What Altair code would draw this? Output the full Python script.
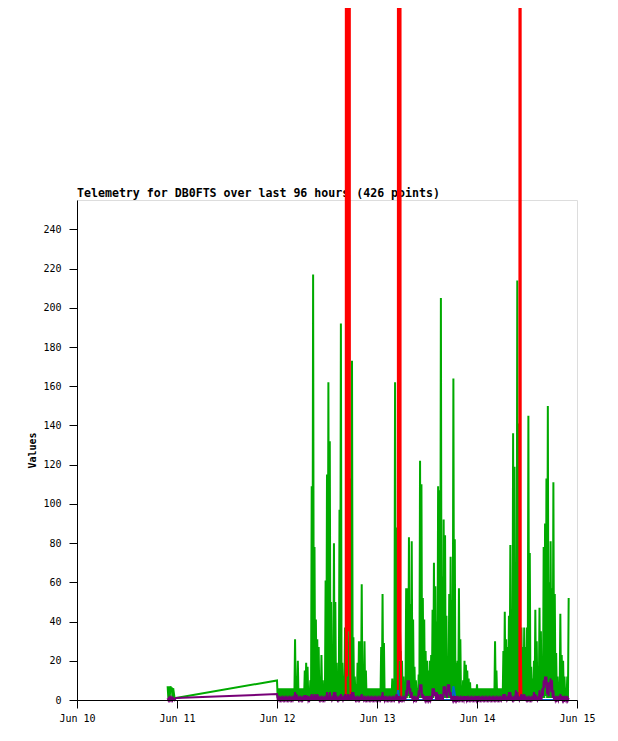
import altair as alt
import pandas as pd

TITLE = "Telemetry for DB0FTS over last 96 hours (426 points)"
MONO = "DejaVu Sans Mono"

# x is hours since Jun 10 00:00
DAY_TICKS = [0, 24, 48, 72, 96, 120]
Y_TICKS = [0, 20, 40, 60, 80, 100, 120, 140, 160, 180, 200, 220, 240]

# a few packets late on Jun 10
pre_hours = [21.75, 21.92, 22.08, 22.25, 22.42, 22.58, 22.75, 22.92, 23.08, 23.42, 23.75]
pre_green = [7, 1, 7, 1, 7, 6, 6, 1, 6, 1, 1]
pre_purple = [1, 0, 1, 0, 1, 0, 1, 0, 1, 0, 1]

# regular packets from Jun 12 00:00, every 10 minutes
GRID_START = 48.0
GRID_STEP = 1.0 / 6.0

# green: values on the :00/:20/:40 packets (peaks) and the :10/:30/:50 packets (troughs)
green_peaks = [
    10, 6, 6, 6, 6, 6, 6, 6, 6, 6,
    6, 6, 6, 31, 12, 20, 6, 6, 6, 6,
    15, 19, 17, 6, 10, 109, 217, 78, 41, 31,
    27, 6, 23, 10, 6, 61, 115, 162, 132, 50,
    17, 80, 50, 19, 8, 97, 192, 19, 10, 37,
    30, 37, 20, 113, 173, 32, 12, 8, 19, 30,
    30, 59, 6, 30, 15, 6, 6, 6, 6, 6,
    6, 6, 6, 6, 6, 27, 54, 29, 6, 6,
    6, 6, 6, 11, 6, 162, 88, 30, 20, 25,
    20, 12, 6, 57, 57, 83, 49, 81, 41, 17,
    10, 6, 13, 122, 110, 52, 41, 25, 20, 15,
    20, 23, 46, 70, 58, 40, 109, 107, 205, 63,
    92, 84, 43, 6, 54, 73, 51, 164, 82, 19,
    20, 57, 31, 7, 10, 20, 18, 15, 11, 9,
    6, 6, 6, 6, 8, 6, 6, 6, 6, 6,
    6, 6, 6, 6, 6, 6, 6, 30, 15, 6,
    6, 6, 6, 25, 45, 31, 27, 43, 79, 40,
    136, 119, 66, 214, 141, 30, 37, 27, 37, 27,
    37, 145, 75, 17, 11, 20, 46, 30, 17, 47,
    35, 20, 78, 90, 113, 150, 60, 81, 57, 111,
    54, 24, 12, 6, 44, 23, 20, 12, 6, 12, 52,
]
green_troughs = [
    1, 1, 1, 1, 1, 1, 1, 1, 1, 1,
    1, 1, 1, 1, 1, 1, 1, 1, 1, 1,
    1, 1, 1, 1, 1, 2, 1, 1, 2, 1,
    1, 1, 1, 1, 1, 1, 1, 2, 1, 1,
    1, 1, 1, 1, 1, 1, 1, 1, 1, 1,
    1, 1, 1, 1, 1, 1, 1, 1, 1, 1,
    1, 1, 1, 1, 1, 1, 1, 1, 1, 1,
    1, 1, 1, 1, 1, 1, 1, 1, 1, 1,
    1, 1, 1, 1, 1, 1, 1, 1, 1, 1,
    1, 1, 1, 1, 2, 1, 1, 1, 1, 1,
    1, 1, 1, 1, 1, 1, 1, 1, 1, 1,
    1, 1, 1, 2, 1, 1, 1, 1, 1, 1,
    1, 1, 1, 1, 1, 1, 1, 1, 1, 1,
    1, 1, 1, 1, 1, 1, 1, 1, 1, 1,
    1, 1, 1, 1, 1, 1, 1, 1, 1, 1,
    1, 1, 1, 1, 1, 1, 1, 1, 1, 1,
    1, 1, 1, 1, 1, 1, 1, 1, 2, 1,
    1, 1, 1, 1, 1, 1, 1, 1, 1, 1,
    1, 1, 1, 1, 1, 1, 1, 1, 1, 1,
    1, 1, 1, 2, 1, 1, 1, 1, 1, 1,
    1, 1, 1, 1, 1, 1, 1, 1, 1, 1,
]

purple_peaks = [
    3, 1, 1, 1, 1, 1, 1, 1, 1, 1,
    1, 1, 1, 4, 3, 1, 1, 1, 1, 1,
    2.5, 2.5, 2, 1, 1, 3, 2, 3, 1, 3,
    1, 1, 1, 1, 1, 1, 4, 2, 4, 1,
    1, 4, 4, 1, 1, 1, 3, 1, 1, 3,
    1, 3, 1, 3, 4, 4, 1, 1, 1, 1,
    1, 3, 1, 1, 1, 1, 1, 1, 1, 1,
    1, 1, 1, 1, 1, 1, 4, 2, 1, 1,
    1, 1, 1, 1, 1, 1, 3, 1, 2, 1,
    1, 1, 1, 5, 10, 10, 6, 4, 2, 1,
    1, 1, 5, 8, 8, 3, 1, 2, 1, 2,
    1, 2, 6, 6, 4, 4, 3, 1, 3, 2,
    7, 7, 3, 8, 8, 4, 1, 2, 1, 2,
    1, 1, 1, 1, 1, 2, 2, 1, 1, 1,
    1, 1, 1, 1, 2, 1, 1, 1, 1, 1,
    1, 1, 1, 1, 1, 1, 1, 1, 1, 1,
    1, 1, 1, 3, 3, 1, 1, 4, 4, 1,
    1, 1, 5, 4, 1, 1, 3, 1, 3, 1,
    1, 1, 1, 1, 1, 4, 3, 1, 1, 5,
    1, 6, 10, 12, 12, 9, 9, 11, 10, 5,
    2, 1, 1, 2, 3, 1, 2, 1, 1, 2, 1,
]
purple_troughs = [
    0, 0, 0, 0, 0, 0, 0, 0, 0, 0,
    0, 0, 0, 0, 0, 0, 0, 0, 0, 0,
    0, 0, 0, 0, 0, 0, 0, 0, 0, 0,
    0, 0, 0, 0, 0, 0, 0, 0, 0, 0,
    0, 0, 0, 0, 0, 0, 0, 0, 0, 0,
    0, 0, 0, 0, 0, 0, 0, 0, 0, 0,
    0, 0, 0, 0, 0, 0, 0, 0, 0, 0,
    0, 0, 0, 0, 0, 0, 0, 0, 0, 0,
    0, 0, 0, 0, 0, 0, 0, 0, 0, 0,
    0, 0, 0, 2, 5, 3, 1, 0, 0, 0,
    0, 0, 2, 4, 1, 0, 0, 0, 0, 0,
    0, 0, 2, 2, 0, 0, 0, 0, 0, 0,
    3, 2, 1, 4, 2, 0, 0, 0, 0, 0,
    0, 0, 0, 0, 0, 0, 0, 0, 0, 0,
    0, 0, 0, 0, 0, 0, 0, 0, 0, 0,
    0, 0, 0, 0, 0, 0, 0, 0, 0, 0,
    0, 0, 0, 0, 0, 0, 0, 0, 0, 0,
    0, 0, 0, 0, 0, 0, 0, 0, 0, 0,
    0, 0, 0, 0, 0, 0, 0, 0, 0, 0,
    0, 2, 6, 8, 3, 2, 7, 4, 1, 0,
    0, 0, 0, 0, 0, 0, 0, 0, 0, 0,
]

# red channel: three off-scale bursts
red_hours = [48.0, 64.5, 64.667, 64.833, 65.0, 65.167, 65.333, 65.5, 65.667,
             77.0, 77.167, 77.333, 77.5, 77.667, 77.833,
             106.167, 106.333, 106.5, 106.667, 118.0]
red_values = [0, 0, 3000, 12, 3000, 35, 3000, 25, 0,
              0, 3000, 20, 3000, 35, 0,
              0, 3000, 30, 0, 0]

blue_hours = [48.0, 76.8, 77.05, 77.3, 90.0, 90.33, 90.6, 90.9, 118.0]
blue_values = [0, 0, 5, 0, 0, 7, 4, 0, 0]

COLORS = {"green": "#00aa00", "red": "#ff0000", "blue": "#0066cc", "purple": "#770077"}


def interleave(peaks, troughs):
    out = []
    for k, p in enumerate(peaks):
        out.append(p)
        if k < len(troughs):
            out.append(troughs[k])
    return out


rows = []
for name, pre_vals, peaks, troughs in [
    ("green", pre_green, green_peaks, green_troughs),
    ("purple", pre_purple, purple_peaks, purple_troughs),
]:
    for h, v in zip(pre_hours, pre_vals):
        rows.append({"h": h, "v": v, "s": name})
    for k, v in enumerate(interleave(peaks, troughs)):
        rows.append({"h": GRID_START + k * GRID_STEP, "v": v, "s": name})
for h, v in zip(red_hours, red_values):
    rows.append({"h": h, "v": v, "s": "red"})
for h, v in zip(blue_hours, blue_values):
    rows.append({"h": h, "v": v, "s": "blue"})

df = pd.DataFrame(rows)

x_axis = alt.Axis(
    values=DAY_TICKS,
    labelExpr="'Jun ' + (10 + datum.value / 24)",
    labelFont=MONO, labelFontSize=10, labelColor="black",
    tickColor="black", tickSize=8, tickWidth=1,
    domainColor="black", domainWidth=1,
    labelPadding=5, labelFlush=False, labelOverlap=False,
    grid=False, title=None, zindex=1,
)
y_axis = alt.Axis(
    values=Y_TICKS,
    labelFont=MONO, labelFontSize=10, labelColor="black",
    tickColor="black", tickSize=8, tickWidth=1,
    domainColor="black", domainWidth=1,
    labelPadding=8, labelFlush=False, labelOverlap=False,
    grid=False, zindex=1,
    title="Values", titleFont=MONO, titleFontSize=10, titleFontWeight="bold",
    titleColor="black", titleAngle=270, titleAlign="center",
    titleBaseline="alphabetic", titleX=-42, titleY=250,
)

base = alt.Chart(df).encode(
    x=alt.X("h:Q", scale=alt.Scale(domain=[0, 120], nice=False, zero=False), axis=x_axis),
    y=alt.Y("v:Q", scale=alt.Scale(domain=[0, 255], nice=False, zero=False), axis=y_axis),
)

# chart title, drawn as a text mark just above the plot frame (under the lines)
title_df = pd.DataFrame({"t": [TITLE]})
title_layer = alt.Chart(title_df).mark_text(
    align="left", baseline="alphabetic", font=MONO, fontSize=11.6,
    fontWeight="bold", color="black",
).encode(text="t:N", x=alt.value(0), y=alt.value(-3))

layers = [title_layer]
for name in ["green", "red", "blue", "purple"]:
    layers.append(
        base.transform_filter(alt.datum.s == name).mark_line(
            color=COLORS[name], strokeWidth=2, interpolate="linear"
        )
    )

chart = alt.layer(*layers).properties(
    width=500,
    height=500,
    padding={"left": 69, "top": 192, "right": 33, "bottom": 30},
    autosize=alt.AutoSizeParams(type="none"),
).configure_view(stroke="#222222", strokeWidth=1).configure(background="white")

chart.save("out.html", embed_options={"renderer": "svg", "actions": False})
